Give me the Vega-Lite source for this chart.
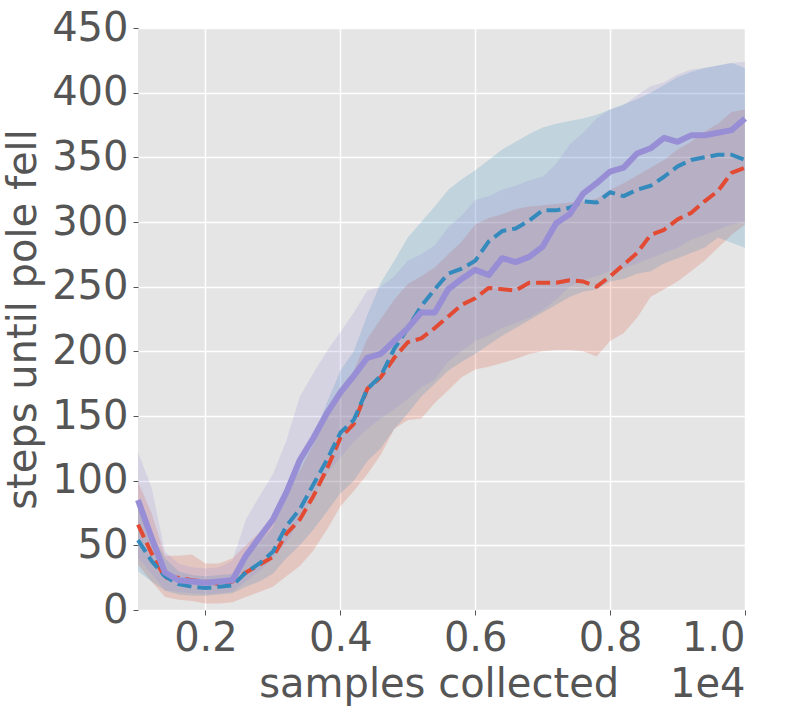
{
  "$schema": "https://vega.github.io/schema/vega-lite/v6.json",
  "description": "Steps until pole fell vs samples collected, three runs with bands.",
  "width": 607,
  "height": 582,
  "autosize": "none",
  "padding": {"left": 138, "top": 28, "right": 44, "bottom": 100},
  "background": "white",
  "config": {
    "view": {"fill": "#E5E5E5", "stroke": null},
    "axis": {
      "domain": false,
      "grid": true,
      "gridColor": "white",
      "gridWidth": 1.5,
      "tickColor": "#555555",
      "tickSize": 5,
      "labelColor": "#555555",
      "labelFont": "DejaVu Sans",
      "labelFontSize": 40,
      "titleColor": "#555555",
      "titleFont": "DejaVu Sans",
      "titleFontSize": 40,
      "titleFontWeight": "normal"
    }
  },
  "data": {
    "values": [
      {"x": 0.10, "r": 66, "r_lo": 35, "r_hi": 99, "b": 54, "b_lo": 30, "b_hi": 85, "p": 85, "p_lo": 40, "p_hi": 122},
      {"x": 0.12, "r": 44, "r_lo": 22, "r_hi": 75, "b": 38, "b_lo": 22, "b_hi": 60, "p": 56, "p_lo": 28, "p_hi": 95},
      {"x": 0.14, "r": 25, "r_lo": 10, "r_hi": 42, "b": 26, "b_lo": 15, "b_hi": 40, "p": 29, "p_lo": 15, "p_hi": 45},
      {"x": 0.16, "r": 25, "r_lo": 8, "r_hi": 42, "b": 20, "b_lo": 12, "b_hi": 30, "p": 23, "p_lo": 14, "p_hi": 36},
      {"x": 0.18, "r": 23, "r_lo": 7, "r_hi": 43, "b": 18, "b_lo": 11, "b_hi": 27, "p": 22, "p_lo": 13, "p_hi": 33},
      {"x": 0.20, "r": 22, "r_lo": 5, "r_hi": 36, "b": 17, "b_lo": 11, "b_hi": 26, "p": 21, "p_lo": 12, "p_hi": 32},
      {"x": 0.22, "r": 20, "r_lo": 5, "r_hi": 36, "b": 18, "b_lo": 12, "b_hi": 27, "p": 22, "p_lo": 13, "p_hi": 33},
      {"x": 0.24, "r": 22, "r_lo": 6, "r_hi": 40, "b": 19, "b_lo": 13, "b_hi": 28, "p": 23, "p_lo": 14, "p_hi": 38},
      {"x": 0.26, "r": 29, "r_lo": 10, "r_hi": 50, "b": 29, "b_lo": 18, "b_hi": 42, "p": 42, "p_lo": 22, "p_hi": 70},
      {"x": 0.28, "r": 35, "r_lo": 14, "r_hi": 60, "b": 36, "b_lo": 22, "b_hi": 52, "p": 56, "p_lo": 30, "p_hi": 88},
      {"x": 0.30, "r": 41, "r_lo": 18, "r_hi": 72, "b": 45, "b_lo": 28, "b_hi": 64, "p": 70, "p_lo": 40, "p_hi": 105},
      {"x": 0.32, "r": 59, "r_lo": 26, "r_hi": 92, "b": 65, "b_lo": 40, "b_hi": 92, "p": 91, "p_lo": 52, "p_hi": 131},
      {"x": 0.34, "r": 70, "r_lo": 34, "r_hi": 108, "b": 78, "b_lo": 50, "b_hi": 110, "p": 116, "p_lo": 70, "p_hi": 165},
      {"x": 0.36, "r": 88, "r_lo": 46, "r_hi": 128, "b": 97, "b_lo": 62, "b_hi": 135, "p": 133, "p_lo": 88, "p_hi": 183},
      {"x": 0.38, "r": 109, "r_lo": 62, "r_hi": 150, "b": 116, "b_lo": 76, "b_hi": 160, "p": 152, "p_lo": 105, "p_hi": 200},
      {"x": 0.40, "r": 133, "r_lo": 80, "r_hi": 172, "b": 137, "b_lo": 90, "b_hi": 185, "p": 168, "p_lo": 118, "p_hi": 215},
      {"x": 0.42, "r": 144, "r_lo": 92, "r_hi": 185, "b": 147, "b_lo": 100, "b_hi": 200, "p": 181, "p_lo": 130, "p_hi": 230},
      {"x": 0.44, "r": 171, "r_lo": 105, "r_hi": 210, "b": 171, "b_lo": 115, "b_hi": 228, "p": 195, "p_lo": 140, "p_hi": 247},
      {"x": 0.46, "r": 180, "r_lo": 120, "r_hi": 225, "b": 181, "b_lo": 125, "b_hi": 253, "p": 198, "p_lo": 148, "p_hi": 250},
      {"x": 0.48, "r": 195, "r_lo": 140, "r_hi": 240, "b": 202, "b_lo": 140, "b_hi": 270, "p": 208, "p_lo": 155, "p_hi": 258},
      {"x": 0.50, "r": 207, "r_lo": 147, "r_hi": 252, "b": 218, "b_lo": 152, "b_hi": 288, "p": 218, "p_lo": 163, "p_hi": 270},
      {"x": 0.52, "r": 210, "r_lo": 148, "r_hi": 258, "b": 235, "b_lo": 165, "b_hi": 300, "p": 230, "p_lo": 172, "p_hi": 275},
      {"x": 0.54, "r": 218, "r_lo": 160, "r_hi": 265, "b": 248, "b_lo": 175, "b_hi": 312, "p": 230, "p_lo": 178, "p_hi": 282},
      {"x": 0.56, "r": 227, "r_lo": 170, "r_hi": 275, "b": 260, "b_lo": 185, "b_hi": 325, "p": 248, "p_lo": 192, "p_hi": 296},
      {"x": 0.58, "r": 236, "r_lo": 180, "r_hi": 285, "b": 264, "b_lo": 192, "b_hi": 333, "p": 256, "p_lo": 200, "p_hi": 305},
      {"x": 0.60, "r": 241, "r_lo": 186, "r_hi": 298, "b": 270, "b_lo": 198, "b_hi": 340, "p": 263, "p_lo": 208, "p_hi": 317},
      {"x": 0.62, "r": 249, "r_lo": 188, "r_hi": 303, "b": 285, "b_lo": 205, "b_hi": 348, "p": 259, "p_lo": 212, "p_hi": 320},
      {"x": 0.64, "r": 248, "r_lo": 191, "r_hi": 306, "b": 293, "b_lo": 212, "b_hi": 356, "p": 272, "p_lo": 218, "p_hi": 325},
      {"x": 0.66, "r": 247, "r_lo": 194, "r_hi": 310, "b": 295, "b_lo": 218, "b_hi": 362, "p": 269, "p_lo": 222, "p_hi": 328},
      {"x": 0.68, "r": 253, "r_lo": 198, "r_hi": 312, "b": 301, "b_lo": 224, "b_hi": 368, "p": 273, "p_lo": 226, "p_hi": 332},
      {"x": 0.70, "r": 253, "r_lo": 200, "r_hi": 313, "b": 309, "b_lo": 230, "b_hi": 373, "p": 281, "p_lo": 232, "p_hi": 335},
      {"x": 0.72, "r": 253, "r_lo": 201, "r_hi": 314, "b": 309, "b_lo": 236, "b_hi": 376, "p": 299, "p_lo": 240, "p_hi": 345},
      {"x": 0.74, "r": 255, "r_lo": 201, "r_hi": 315, "b": 311, "b_lo": 242, "b_hi": 378, "p": 306, "p_lo": 250, "p_hi": 360},
      {"x": 0.76, "r": 254, "r_lo": 200, "r_hi": 316, "b": 316, "b_lo": 246, "b_hi": 380, "p": 322, "p_lo": 255, "p_hi": 369},
      {"x": 0.78, "r": 250, "r_lo": 196, "r_hi": 318, "b": 315, "b_lo": 248, "b_hi": 383, "p": 330, "p_lo": 258, "p_hi": 380},
      {"x": 0.80, "r": 258, "r_lo": 208, "r_hi": 325, "b": 323, "b_lo": 254, "b_hi": 387, "p": 339, "p_lo": 262, "p_hi": 387},
      {"x": 0.82, "r": 267, "r_lo": 214, "r_hi": 330, "b": 320, "b_lo": 256, "b_hi": 391, "p": 342, "p_lo": 264, "p_hi": 390},
      {"x": 0.84, "r": 276, "r_lo": 226, "r_hi": 336, "b": 325, "b_lo": 260, "b_hi": 395, "p": 353, "p_lo": 268, "p_hi": 398},
      {"x": 0.86, "r": 290, "r_lo": 242, "r_hi": 342, "b": 328, "b_lo": 262, "b_hi": 400, "p": 357, "p_lo": 272, "p_hi": 405},
      {"x": 0.88, "r": 294, "r_lo": 248, "r_hi": 348, "b": 335, "b_lo": 268, "b_hi": 406, "p": 365, "p_lo": 276, "p_hi": 408},
      {"x": 0.90, "r": 302, "r_lo": 254, "r_hi": 356, "b": 343, "b_lo": 272, "b_hi": 412, "p": 362, "p_lo": 280, "p_hi": 414},
      {"x": 0.92, "r": 307, "r_lo": 262, "r_hi": 362, "b": 348, "b_lo": 276, "b_hi": 416, "p": 367, "p_lo": 286, "p_hi": 418},
      {"x": 0.94, "r": 316, "r_lo": 270, "r_hi": 370, "b": 350, "b_lo": 280, "b_hi": 419, "p": 367, "p_lo": 290, "p_hi": 419},
      {"x": 0.96, "r": 324, "r_lo": 280, "r_hi": 376, "b": 352, "b_lo": 288, "b_hi": 421, "p": 369, "p_lo": 294, "p_hi": 421},
      {"x": 0.98, "r": 338, "r_lo": 290, "r_hi": 385, "b": 352, "b_lo": 284, "b_hi": 423, "p": 371, "p_lo": 298, "p_hi": 423},
      {"x": 1.00, "r": 342, "r_lo": 298, "r_hi": 387, "b": 348, "b_lo": 280, "b_hi": 419, "p": 380, "p_lo": 300, "p_hi": 424}
    ]
  },
  "encoding": {
    "x": {
      "field": "x",
      "type": "quantitative",
      "scale": {"domain": [0.1, 1.0], "nice": false, "zero": false},
      "axis": {
        "values": [0.2, 0.4, 0.6, 0.8, 1.0],
        "format": ".1f",
        "labelPadding": 3,
        "title": "samples collected\u00a0\u00a0\u00a0\u00a01e4",
        "titleAnchor": "end",
        "titlePadding": 6
      }
    }
  },
  "layer": [
    {
      "mark": {"type": "area", "color": "#E24A33", "opacity": 0.2},
      "encoding": {
        "y": {
          "field": "r_lo",
          "type": "quantitative",
          "scale": {"domain": [0, 450], "nice": false},
          "axis": {
            "values": [0, 50, 100, 150, 200, 250, 300, 350, 400, 450],
            "labelPadding": 5,
            "title": "steps until pole fell",
            "titlePadding": 8
          }
        },
        "y2": {"field": "r_hi"}
      }
    },
    {
      "mark": {"type": "area", "color": "#348ABD", "opacity": 0.2},
      "encoding": {
        "y": {"field": "b_lo", "type": "quantitative"},
        "y2": {"field": "b_hi"}
      }
    },
    {
      "mark": {"type": "area", "color": "#988ED5", "opacity": 0.2},
      "encoding": {
        "y": {"field": "p_lo", "type": "quantitative"},
        "y2": {"field": "p_hi"}
      }
    },
    {
      "mark": {"type": "line", "color": "#E24A33", "strokeWidth": 4, "strokeDash": [14, 6], "strokeJoin": "round"},
      "encoding": {"y": {"field": "r", "type": "quantitative"}}
    },
    {
      "mark": {"type": "line", "color": "#348ABD", "strokeWidth": 4, "strokeDash": [14, 6], "strokeJoin": "round"},
      "encoding": {"y": {"field": "b", "type": "quantitative"}}
    },
    {
      "mark": {"type": "line", "color": "#988ED5", "strokeWidth": 6, "strokeJoin": "round"},
      "encoding": {"y": {"field": "p", "type": "quantitative"}}
    }
  ]
}
